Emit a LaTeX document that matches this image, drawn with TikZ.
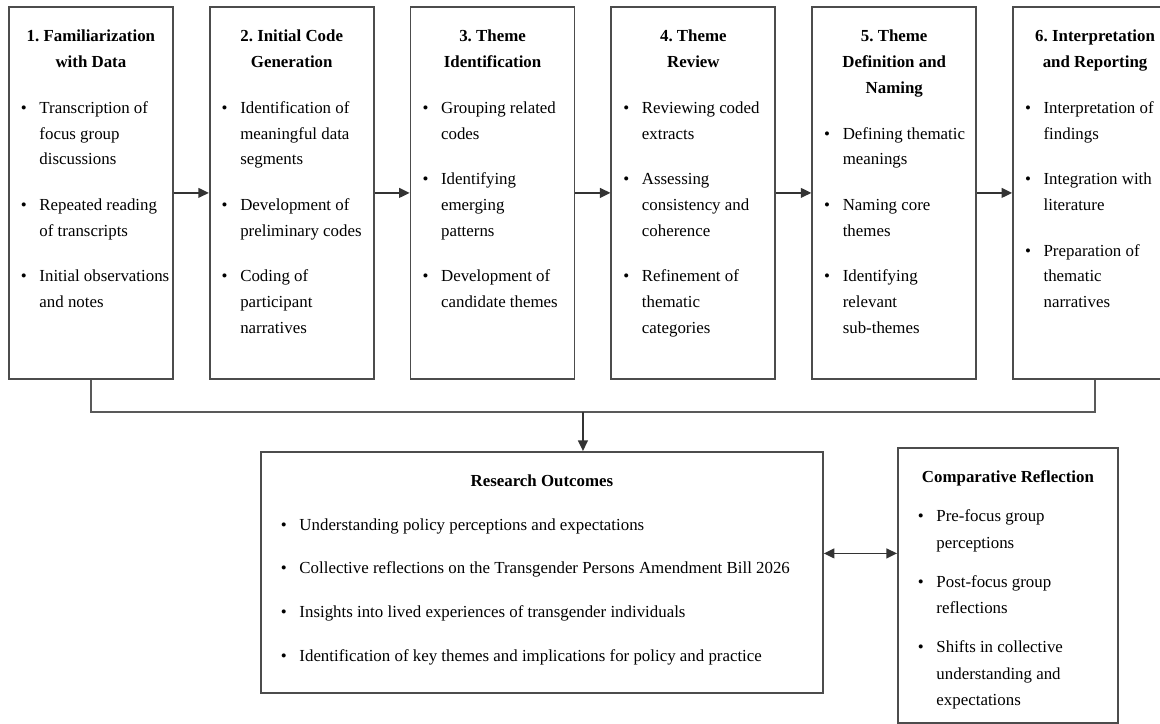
\documentclass[tikz,border=0pt]{standalone}
\usepackage{fontspec}
\setmainfont{Liberation Serif}
\usetikzlibrary{arrows.meta, positioning, calc}

\newlength{\itemgap}
\newlength{\padx}
\newcommand{\bitem}[1]{\par\vspace{\itemgap}\hangindent=1.1em\hangafter=1\noindent\makebox[1.1em][l]{\textbullet}#1}
\newcommand{\boxbody}[4]{%
  \parbox[c][#1][t]{#2}{\frenchspacing\vspace*{0.58cm}%
    {\centering\textbf{#3}\par}%
    \raggedright\leftskip=\padx #4}}

\begin{document}
\begin{tikzpicture}[
  stagebox/.style={rectangle, draw=black!70, line width=1.3pt, inner sep=0pt,
              anchor=north west, font=\fontsize{12pt}{18.4pt}\selectfont,
              execute at begin node={\setlength{\itemgap}{14pt}\setlength{\padx}{0.3cm}}},
  outbox/.style={stagebox,
              execute at begin node={\setlength{\itemgap}{12.6pt}\setlength{\padx}{0.5cm}}},
  reflbox/.style={stagebox, font=\fontsize{12pt}{19pt}\selectfont,
              execute at begin node={\setlength{\itemgap}{8.5pt}\setlength{\padx}{0.5cm}}},
  arrow/.style={-{Triangle[length=7.5pt, width=7pt]}, line width=1.1pt, draw=black!80},
  biarrow/.style={{Triangle[length=7.5pt, width=7pt]}-{Triangle[length=7.5pt, width=7pt]}, line width=1.1pt, draw=black!80},
  line/.style={line width=1.3pt, draw=black!65}
]
\useasboundingbox (0,0) rectangle (29,-18.1);

% analysis stages
\node[stagebox] (s1) at (0.2,-0.15) {\boxbody{9.3cm}{4.1cm}{1. Familiarization\\ with Data}{%
  \bitem{Transcription of\newline focus group\newline discussions}
  \bitem{Repeated reading\newline of transcripts}
  \bitem{Initial observations\newline and notes}}};
\node[stagebox, right=0.875cm of s1] (s2) {\boxbody{9.3cm}{4.1cm}{2. Initial Code\\ Generation}{%
  \bitem{Identification of\newline meaningful data\newline segments}
  \bitem{Development of\newline preliminary codes}
  \bitem{Coding of\newline participant\newline narratives}}};
\node[stagebox, right=0.875cm of s2] (s3) {\boxbody{9.3cm}{4.1cm}{3. Theme\\ Identification}{%
  \bitem{Grouping related\newline codes}
  \bitem{Identifying\newline emerging\newline patterns}
  \bitem{Development of\newline candidate themes}}};
\node[stagebox, right=0.875cm of s3] (s4) {\boxbody{9.3cm}{4.1cm}{4. Theme\\ Review}{%
  \bitem{Reviewing coded\newline extracts}
  \bitem{Assessing\newline consistency and\newline coherence}
  \bitem{Refinement of\newline thematic\newline categories}}};
\node[stagebox, right=0.875cm of s4] (s5) {\boxbody{9.3cm}{4.1cm}{5. Theme\\ Definition and\\ Naming}{%
  \bitem{Defining thematic\newline meanings}
  \bitem{Naming core\newline themes}
  \bitem{Identifying\newline relevant\newline sub-themes}}};
\node[stagebox, right=0.875cm of s5] (s6) {\boxbody{9.3cm}{4.1cm}{6. Interpretation\\ and Reporting}{%
  \bitem{Interpretation of\newline findings}
  \bitem{Integration with\newline literature}
  \bitem{Preparation of\newline thematic\newline narratives}}};

\foreach \a/\b in {s1/s2, s2/s3, s3/s4, s4/s5, s5/s6}
  \draw[arrow] (\a) -- (\b);

% outcomes
\node[outbox] (outcomes) at (6.5,-11.275) {\boxbody{6.025cm}{14.05cm}{Research Outcomes}{%
  \bitem{Understanding policy perceptions and expectations}
  \bitem{Collective reflections on the Transgender Persons Amendment Bill 2026}
  \bitem{Insights into lived experiences of transgender individuals}
  \bitem{Identification of key themes and implications for policy and practice}}};
\node[reflbox] (compare) at (22.425,-11.175) {\boxbody{6.875cm}{5.5cm}{Comparative Reflection}{%
  \bitem{Pre-focus group\newline perceptions}
  \bitem{Post-focus group\newline reflections}
  \bitem{Shifts in collective\newline understanding and\newline expectations}}};

% merge line
\coordinate (join1) at ([yshift=-0.8cm]s1.south);
\coordinate (join6) at ([yshift=-0.8cm]s6.south);
\draw[line] (s1.south) -- (join1) -- (join6) -- (s6.south);
\coordinate (merge) at ($(join1)!0.49!(join6)$);
\draw[arrow] (merge) -- (merge |- outcomes.north);

\draw[biarrow] ([yshift=0.475cm]outcomes.east) -- ([yshift=0.475cm]outcomes.east -| compare.west);

\end{tikzpicture}
\end{document}
